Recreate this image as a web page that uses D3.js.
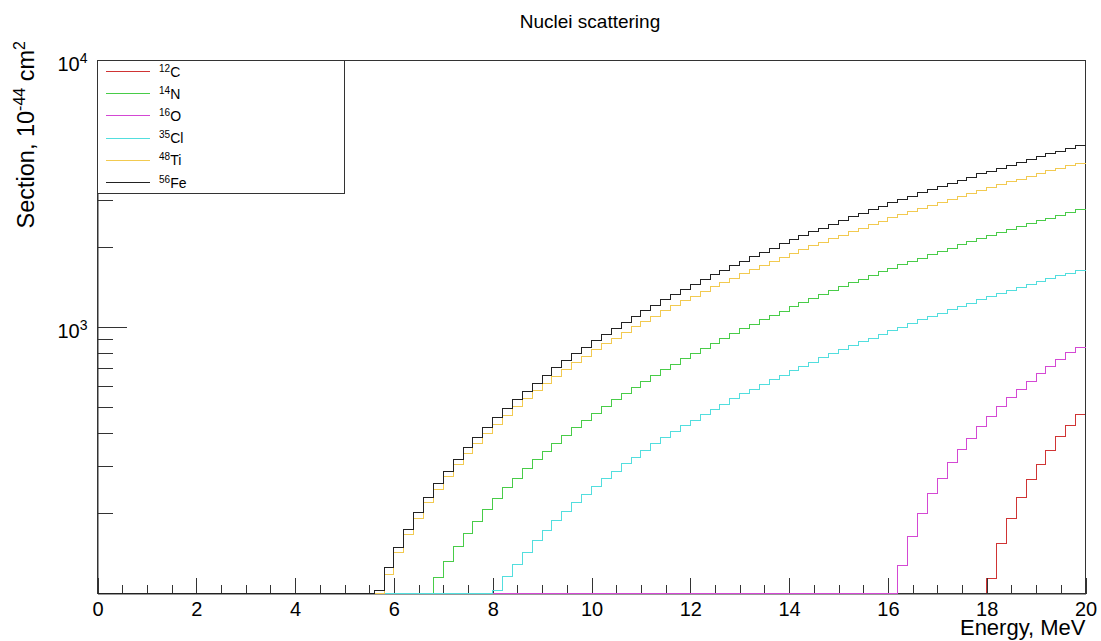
<!DOCTYPE html>
<html lang="en">
<head>
<meta charset="UTF-8">
<title>Nuclei scattering</title>
<script src="https://cdn.jsdelivr.net/npm/d3@7"></script>
<style>
  body { margin: 0; background: #fff; }
  text { font-family: "Liberation Sans", Arial, Helvetica, sans-serif; fill: #000; }
</style>
</head>
<body>
<svg width="1101" height="641"></svg>
<script>
// histogram settings: 100 bins of 0.2 MeV from 0 to 20 MeV
var binWidth = 0.2;
var nBins = 100;

var symbols = ["C", "N", "O", "Cl", "Ti", "Fe"];
var massNumbers = ["12", "14", "16", "35", "48", "56"];
var colors = ["#d03434", "#48cc48", "#d448d4", "#52dede", "#f2ca50", "#222222"];

// energy (MeV) of the first filled bin, bins before it are empty
var onsets = [18.0, 6.8, 16.2, 8.0, 5.8, 5.6];

// bin contents, 10^-44 cm^2, starting from the onset bin
var c12 = [114, 154, 192, 230, 267, 305, 344, 387, 426, 469];
var n14 = [115, 132, 150, 168, 187, 207, 228, 249, 271, 294, 317, 342, 367, 393, 419, 446, 474, 503, 533, 563,
           594, 625, 658, 691, 725, 760, 795, 831, 868, 906, 944, 983, 1023, 1064, 1105, 1147, 1190, 1234, 1278, 1323,
           1369, 1415, 1463, 1511, 1559, 1609, 1659, 1710, 1762, 1814, 1867, 1921, 1976, 2031, 2087, 2144, 2202, 2260, 2319, 2379,
           2440, 2501, 2563, 2626, 2690, 2754];
var o16 = [127, 164, 200, 237, 271, 309, 347, 383, 422, 462, 501, 542, 582, 625, 668, 708, 754, 799, 838];
var cl35 = [103, 116, 129, 143, 158, 172, 188, 203, 219, 236, 253, 270, 288, 307, 325, 344, 364, 384, 405, 426,
            447, 469, 491, 514, 537, 561, 585, 610, 635, 660, 686, 713, 739, 767, 794, 822, 851, 880, 909, 939,
            970, 1000, 1032, 1063, 1096, 1128, 1161, 1195, 1229, 1263, 1298, 1333, 1369, 1405, 1441, 1478, 1516, 1554, 1592, 1631];
var ti48 = [118, 142, 166, 192, 219, 246, 275, 304, 335, 366, 399, 432, 467, 502, 538, 576, 614, 653, 694, 735,
            777, 820, 864, 909, 955, 1002, 1050, 1099, 1149, 1200, 1252, 1305, 1358, 1413, 1469, 1526, 1583, 1642, 1701, 1762,
            1824, 1886, 1950, 2014, 2079, 2146, 2213, 2282, 2351, 2421, 2492, 2565, 2638, 2712, 2787, 2863, 2940, 3018, 3097, 3177,
            3258, 3340, 3423, 3507, 3592, 3677, 3764, 3852, 3941, 4030, 4121];
var fe56 = [103, 125, 149, 174, 201, 229, 258, 288, 319, 352, 386, 421, 458, 495, 534, 574, 615, 658, 702, 747,
            793, 841, 889, 939, 990, 1043, 1096, 1151, 1207, 1265, 1323, 1383, 1444, 1506, 1570, 1635, 1701, 1768, 1836, 1906,
            1977, 2049, 2122, 2197, 2273, 2350, 2428, 2508, 2589, 2671, 2754, 2838, 2924, 3011, 3099, 3189, 3279, 3371, 3464, 3558,
            3654, 3751, 3849, 3948, 4049, 4150, 4253, 4357, 4463, 4570, 4677, 4787];
var contents = [c12, n14, o16, cl35, ti48, fe56];

var xMajorTicks = [0, 2, 4, 6, 8, 10, 12, 14, 16, 18, 20];
var yMajorTicks = [1000, 10000];
var yMinorTicks = [200, 300, 400, 500, 600, 700, 800, 900, 2000, 3000, 4000, 5000, 6000, 7000, 8000, 9000];

var svg = d3.select("svg");
var padL = 97.5, padR = 1085.5, padT = 60.5, padB = 593.5;
var yMin = 100, yMax = 10000;

var x = d3.scaleLinear().domain([0, nBins * binWidth]).range([padL, padR]);
var y = d3.scaleLog().domain([yMin, yMax]).range([padB, padT]);

// full 100-bin histograms
var hists = contents.map(function (vals, k) {
    return d3.range(nBins).map(function (i) {
        var j = Math.round((i * binWidth - onsets[k]) / binWidth);
        return j >= 0 && j < vals.length ? vals[j] : 0;
    });
});

var line = d3.line()
    .x(function (d) { return x(d[0]); })
    .y(function (d) { return y(Math.max(d[1], yMin)); })
    .curve(d3.curveStepAfter);

function drawHist(k) {
    var pts = hists[k].map(function (v, i) { return [i * binWidth, v]; });
    pts.push([nBins * binWidth, hists[k][nBins - 1]]);
    svg.append("path")
        .attr("d", line(pts))
        .attr("fill", "none")
        .attr("stroke", colors[k])
        .attr("stroke-width", 1)
        .attr("shape-rendering", "crispEdges");
}

// first histogram, then frame and axes (ROOT paints axes over the first one)
drawHist(0);

svg.append("rect")
    .attr("x", padL).attr("y", padT)
    .attr("width", padR - padL).attr("height", padB - padT)
    .attr("fill", "none").attr("stroke", "#333").attr("shape-rendering", "crispEdges");

var xMinorTicks = d3.range(0, 20.01, 0.5).filter(function (v) { return v % 2 !== 0; });

svg.append("g")
    .attr("transform", "translate(0," + padB + ")")
    .call(d3.axisBottom(x).tickValues(xMinorTicks).tickSizeInner(-9).tickSizeOuter(0).tickFormat(""))
    .call(function (g) { g.select(".domain").remove(); });

svg.append("g")
    .attr("class", "xaxis")
    .attr("transform", "translate(0," + padB + ")")
    .call(d3.axisBottom(x).tickValues(xMajorTicks).tickSizeInner(-16).tickSizeOuter(0).tickPadding(8).tickFormat(d3.format("d")))
    .call(function (g) { g.select(".domain").attr("stroke", "#333"); });

svg.append("g")
    .attr("transform", "translate(" + padL + ",0)")
    .call(d3.axisLeft(y).tickValues(yMinorTicks).tickSizeInner(-15).tickSizeOuter(0).tickFormat(""))
    .call(function (g) { g.select(".domain").remove(); });

svg.append("g")
    .attr("class", "yaxis")
    .attr("transform", "translate(" + padL + ",0)")
    .call(d3.axisLeft(y).tickValues(yMajorTicks).tickSizeInner(-29).tickSizeOuter(0).tickPadding(10))
    .call(function (g) {
        g.select(".domain").attr("stroke", "#333");
        g.selectAll(".tick text").text(null).attr("dy", "0.5em")
            .each(function (d) {
                var t = d3.select(this);
                t.append("tspan").text("10");
                t.append("tspan").attr("dy", "-0.55em").attr("font-size", "14px").text(Math.round(Math.log10(d)));
            });
    });

svg.selectAll(".tick line").attr("stroke", "#333").attr("shape-rendering", "crispEdges");
svg.selectAll(".xaxis text, .yaxis text").attr("font-size", "20px").attr("fill", "#000");

// remaining histograms drawn with "same"
for (var k = 1; k < contents.length; k++) drawHist(k);

// titles
svg.append("text")
    .attr("x", 590).attr("y", 28)
    .attr("text-anchor", "middle").attr("font-size", "19px")
    .text("Nuclei scattering");

svg.append("text")
    .attr("x", padR).attr("y", 635)
    .attr("text-anchor", "end").attr("font-size", "22px")
    .text("Energy, MeV");

var yTitle = svg.append("text")
    .attr("transform", "translate(34,41) rotate(-90)")
    .attr("text-anchor", "end").attr("font-size", "23.5px");
yTitle.append("tspan").text("Section, 10");
yTitle.append("tspan").attr("dy", "-9").attr("font-size", "16px").text("-44");
yTitle.append("tspan").attr("dy", "9").text(" cm");
yTitle.append("tspan").attr("dy", "-9").attr("font-size", "16px").text("2");

// legend
var legendW = 247, legendH = 133;
var legend = svg.append("g");
legend.append("rect")
    .attr("x", padL).attr("y", padT)
    .attr("width", legendW).attr("height", legendH)
    .attr("fill", "#fff").attr("stroke", "#333").attr("shape-rendering", "crispEdges");

var rowY = d3.scalePoint().domain(symbols).range([71.5, 182.5]);

var rows = legend.selectAll(".row").data(symbols).enter().append("g");
rows.append("line")
    .attr("x1", 106).attr("x2", 150)
    .attr("y1", function (d) { return rowY(d); })
    .attr("y2", function (d) { return rowY(d); })
    .attr("stroke", function (d, i) { return colors[i]; })
    .attr("shape-rendering", "crispEdges");

var labels = rows.append("text")
    .attr("x", 159)
    .attr("y", function (d) { return rowY(d) + 5; })
    .attr("font-size", "14px");
labels.append("tspan").attr("dy", "-5").attr("font-size", "10px").text(function (d, i) { return massNumbers[i]; });
labels.append("tspan").attr("dy", "5").text(function (d) { return d; });
</script>
</body>
</html>
